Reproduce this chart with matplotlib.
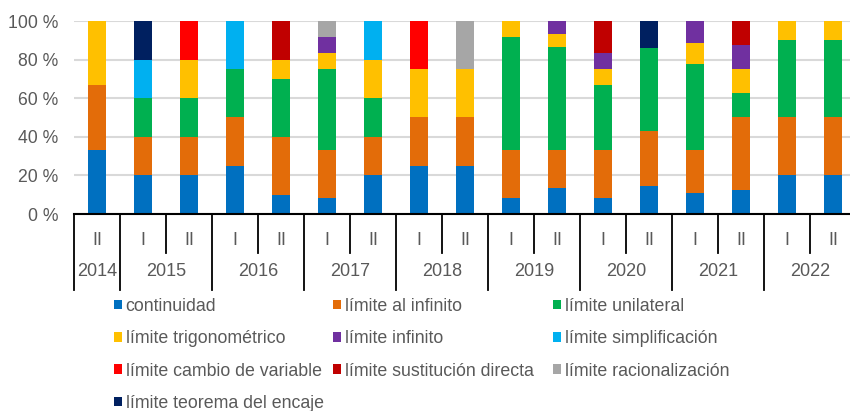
import matplotlib
matplotlib.use("Agg")
import matplotlib.pyplot as plt
from matplotlib.patches import Patch

plt.rcParams["font.family"] = ["Liberation Sans", "DejaVu Sans"]

years = ["2014", "2015", "2016", "2017", "2018", "2019", "2020", "2021", "2022"]
semesters = ["II", "I", "II", "I", "II", "I", "II", "I", "II",
             "I", "II", "I", "II", "I", "II", "I", "II"]
year_spans = [1, 2, 2, 2, 2, 2, 2, 2, 2]

series_names = [
    "continuidad", "límite al infinito", "límite unilateral",
    "límite trigonométrico", "límite infinito", "límite simplificación",
    "límite cambio de variable", "límite sustitución directa",
    "límite racionalización", "límite teorema del encaje",
]
colors = ["#0070C0", "#E36C09", "#00B050", "#FFC000", "#7030A0",
          "#00B0F0", "#FF0000", "#C00000", "#A6A6A6", "#002060"]

# percentages per period (17 bars)
continuidad = [33.3, 20, 20, 25, 10, 8.3, 20, 25, 25, 8.3, 13.3, 8.3, 14.3, 11.1, 12.5, 20, 20]
al_infinito = [33.3, 20, 20, 25, 30, 25, 20, 25, 25, 25, 20, 25, 28.6, 22.2, 37.5, 30, 30]
unilateral = [0, 20, 20, 25, 30, 41.7, 20, 0, 0, 58.3, 53.3, 33.3, 42.9, 44.4, 12.5, 40, 40]
trigonometrico = [33.3, 0, 20, 0, 10, 8.3, 20, 25, 25, 8.3, 6.7, 8.3, 0, 11.1, 12.5, 10, 10]
infinito = [0, 0, 0, 0, 0, 8.3, 0, 0, 0, 0, 6.7, 8.3, 0, 11.1, 12.5, 0, 0]
simplificacion = [0, 20, 0, 25, 0, 0, 20, 0, 0, 0, 0, 0, 0, 0, 0, 0, 0]
cambio_variable = [0, 0, 20, 0, 0, 0, 0, 25, 0, 0, 0, 0, 0, 0, 0, 0, 0]
sustitucion = [0, 0, 0, 0, 20, 0, 0, 0, 0, 0, 0, 16.7, 0, 0, 12.5, 0, 0]
racionalizacion = [0, 0, 0, 0, 0, 8.3, 0, 0, 25, 0, 0, 0, 0, 0, 0, 0, 0]
encaje = [0, 20, 0, 0, 0, 0, 0, 0, 0, 0, 0, 0, 14.3, 0, 0, 0, 0]

series = [continuidad, al_infinito, unilateral, trigonometrico, infinito,
          simplificacion, cambio_variable, sustitucion, racionalizacion, encaje]

TXT = "#595959"
W, H = 850, 411

fig = plt.figure(figsize=(8.5, 4.11), dpi=100)
ax = fig.add_axes([74 / W, 1 - 214 / H, 782 / W, 193 / H])

x = list(range(len(semesters)))
bottom = [0.0] * len(x)
for vals, col in zip(series, colors):
    ax.bar(x, vals, width=0.4, bottom=bottom, color=col, zorder=3)
    bottom = [b + v for b, v in zip(bottom, vals)]

ax.set_xlim(-0.5, len(x) - 0.5)
ax.set_ylim(0, 100)
ax.set_yticks(range(0, 101, 20))
ax.set_yticklabels([f"{v} %" for v in range(0, 101, 20)], fontsize=12.7, color=TXT)
ax.tick_params(axis="y", length=0, pad=11)
ax.set_xticks([])
ax.grid(axis="y", color="#D9D9D9", linewidth=1.5, zorder=0)
for s in ["top", "right", "left"]:
    ax.spines[s].set_visible(False)
ax.spines["bottom"].set_color("black")
ax.spines["bottom"].set_linewidth(1.5)
ax.spines["bottom"].set_zorder(4)

# two-level category axis
tr = ax.get_xaxis_transform()
short_y = -39 / 193
long_y = -76 / 193
for i, lab in enumerate(semesters):
    ax.text(i, -26 / 193, lab, transform=tr, ha="center", va="center",
            fontsize=13, color=TXT)
edges = [-0.5]
for span in year_spans:
    edges.append(edges[-1] + span)
for i in range(len(x) + 1):
    e = i - 0.5
    ybot = long_y if e in edges else short_y
    ax.plot([e, e], [0, ybot], transform=tr, color="black", lw=1.3,
            clip_on=False, zorder=5)
for k, yr in enumerate(years):
    mid = (edges[k] + edges[k + 1]) / 2
    ax.text(mid, -57 / 193, yr, transform=tr, ha="center", va="center",
            fontsize=13, color=TXT)

# legend: three fixed-width columns, filled row by row
col_x = [114, 333, 553]
columns = [[0, 3, 6, 9], [1, 4, 7], [2, 5, 8]]
for cx, idx in zip(col_x, columns):
    handles = [Patch(facecolor=colors[i], label=series_names[i]) for i in idx]
    leg = fig.legend(handles=handles, ncol=1, loc="upper left",
                     bbox_to_anchor=(cx / W, 1 - 298 / H), frameon=False,
                     fontsize=12.8, handlelength=0.45, handleheight=0.45,
                     handletextpad=0.2, labelspacing=0.86,
                     borderpad=0, borderaxespad=0)
    for t in leg.get_texts():
        t.set_color(TXT)

fig.savefig("out.png", dpi=100)
